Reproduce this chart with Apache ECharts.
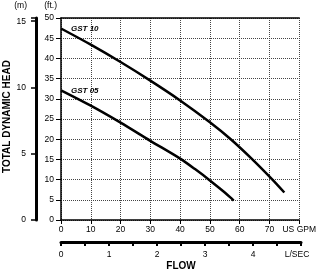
<!DOCTYPE html>
<html>
<head>
<meta charset="utf-8">
<script src="https://cdn.jsdelivr.net/npm/echarts@6/dist/echarts.min.js"></script>
<style>
  html, body { margin: 0; padding: 0; background: #fff; }
  #chart { width: 319px; height: 272px; }
</style>
</head>
<body>
<div id="chart"></div>
<script>
// pump curves, flow in US GPM, head in ft
const gst10Flow = [0, 10, 20, 30, 40, 50, 57, 64, 71, 75]
const gst10Head = [47.4, 43.4, 39.1, 34.5, 29.6, 24.2, 20.0, 15.2, 10.0, 6.8]
const gst05Flow = [0, 10, 20, 30, 40, 45, 50, 55, 58]
const gst05Head = [32.1, 28.3, 24.1, 19.6, 15.2, 12.6, 9.8, 6.8, 4.8]
const seriesNames = ['GST 10', 'GST 05']

const ftTicks = [0, 50, 5]
const mTicks = [0, 15.24, 5]
const gpmTicks = [0, 80, 10]
const lsecTicks = [0, 5, 0.5]

const font = 'Liberation Sans, Arial, sans-serif'

const toPoints = (xs, ys, name) =>
  xs.map((x, i) => {
    const p = { value: [x, ys[i]] }
    if (i === 0) {
      p.label = {
        show: true,
        position: 'right',
        distance: 10,
        formatter: name,
        fontFamily: font,
        fontSize: 8,
        fontWeight: 'bold',
        fontStyle: 'italic',
        color: '#000'
      }
    }
    return p
  })

const lineSeries = (xs, ys, name) => ({
  name: name,
  type: 'line',
  xAxisIndex: 0,
  yAxisIndex: 0,
  smooth: 0.3,
  symbol: 'circle',
  symbolSize: 0,
  showSymbol: true,
  lineStyle: { color: '#000', width: 2.5 },
  itemStyle: { color: '#000' },
  data: toPoints(xs, ys, name)
})

const hiddenAxis = (gridIndex) => ({ type: 'value', gridIndex: gridIndex, show: false, min: 0, max: 1 })

const chart = echarts.init(document.getElementById('chart'))

chart.setOption({
  animation: false,
  grid: [
    { left: 61, right: 18, top: 18, bottom: 52 },
    // second flow scale (L/SEC), bottom edge at y=242
    { left: 61, right: 18, top: 18, bottom: 30 },
    // metres scale, left edge at x=36
    { left: 36, right: 258, top: 18, bottom: 52 }
  ],
  graphic: [
    {
      type: 'text',
      rotation: Math.PI / 2,
      x: 2,
      y: 173,
      style: { text: 'TOTAL DYNAMIC HEAD', font: 'bold 10px ' + font, fill: '#000' }
    },
    {
      type: 'text',
      x: 181,
      y: 261,
      style: { text: 'FLOW', font: 'bold 10px ' + font, fill: '#000', align: 'center' }
    }
  ],
  xAxis: [
    {
      type: 'value',
      gridIndex: 0,
      position: 'bottom',
      min: gpmTicks[0], max: gpmTicks[1], interval: gpmTicks[2],
      axisLine: { show: true, onZero: false, lineStyle: { color: '#000', width: 1.5 } },
      axisTick: {
        show: true, length: 4,
        interval: (i, v) => +v === gpmTicks[1],
        lineStyle: { color: '#000' }
      },
      splitLine: { show: true, lineStyle: { color: '#444', width: 1, type: [1, 1] } },
      axisLabel: {
        margin: 5, fontFamily: font, fontSize: 8.5, color: '#000',
        formatter: (v) => (v === gpmTicks[1] ? 'US GPM' : String(v))
      }
    },
    {
      type: 'value',
      gridIndex: 0,
      position: 'top',
      min: gpmTicks[0], max: gpmTicks[1],
      axisLine: { show: true, onZero: false, lineStyle: { color: '#000', width: 1.5 } },
      axisTick: { show: false },
      axisLabel: { show: false },
      splitLine: { show: false }
    },
    {
      type: 'value',
      gridIndex: 1,
      position: 'bottom',
      min: lsecTicks[0], max: lsecTicks[1], interval: lsecTicks[2],
      axisLine: { show: true, onZero: false, lineStyle: { color: '#000', width: 3 } },
      axisTick: { show: true, length: 4, lineStyle: { color: '#000', width: 2 } },
      splitLine: { show: false },
      axisLabel: {
        margin: 8, interval: 0, fontFamily: font, fontSize: 8.5, color: '#000',
        formatter: (v) => {
          if (v === lsecTicks[1]) return '{u|L/SEC}'
          return Number.isInteger(v) ? String(v) : ''
        },
        rich: { u: { fontFamily: font, fontSize: 8.5, color: '#000', padding: [0, 8, 0, 0] } }
      }
    },
    hiddenAxis(2)
  ],
  yAxis: [
    {
      type: 'value',
      gridIndex: 0,
      position: 'left',
      min: ftTicks[0], max: ftTicks[1], interval: ftTicks[2],
      name: '(ft.)',
      nameGap: 8,
      nameTextStyle: { fontFamily: font, fontSize: 8.5, color: '#000', align: 'right', padding: [0, 4, 0, 0] },
      axisLine: { show: true, onZero: false, lineStyle: { color: '#000', width: 1.5 } },
      axisTick: { show: true, length: 5, lineStyle: { color: '#000' } },
      splitLine: { show: true, lineStyle: { color: '#444', width: 1, type: [1, 1] } },
      axisLabel: { margin: 7, fontFamily: font, fontSize: 8.5, color: '#000' }
    },
    hiddenAxis(1),
    {
      type: 'value',
      gridIndex: 2,
      position: 'left',
      min: mTicks[0], max: mTicks[1], interval: mTicks[2],
      name: '(m)',
      nameGap: 8,
      nameTextStyle: { fontFamily: font, fontSize: 8.5, color: '#000', align: 'right', padding: [0, 9, 0, 0] },
      axisLine: { show: true, onZero: false, lineStyle: { color: '#000', width: 3 } },
      axisTick: {
        show: true, length: 5,
        interval: (i, v) => +v <= 15,
        lineStyle: { color: '#000', width: 1.5 }
      },
      splitLine: { show: false },
      axisLabel: {
        margin: 10, fontFamily: font, fontSize: 8.5, color: '#000',
        formatter: (v) => (v > 15 ? '' : String(v))
      }
    }
  ],
  series: [
    lineSeries(gst10Flow, gst10Head, seriesNames[0]),
    lineSeries(gst05Flow, gst05Head, seriesNames[1])
  ]
})
</script>
</body>
</html>
